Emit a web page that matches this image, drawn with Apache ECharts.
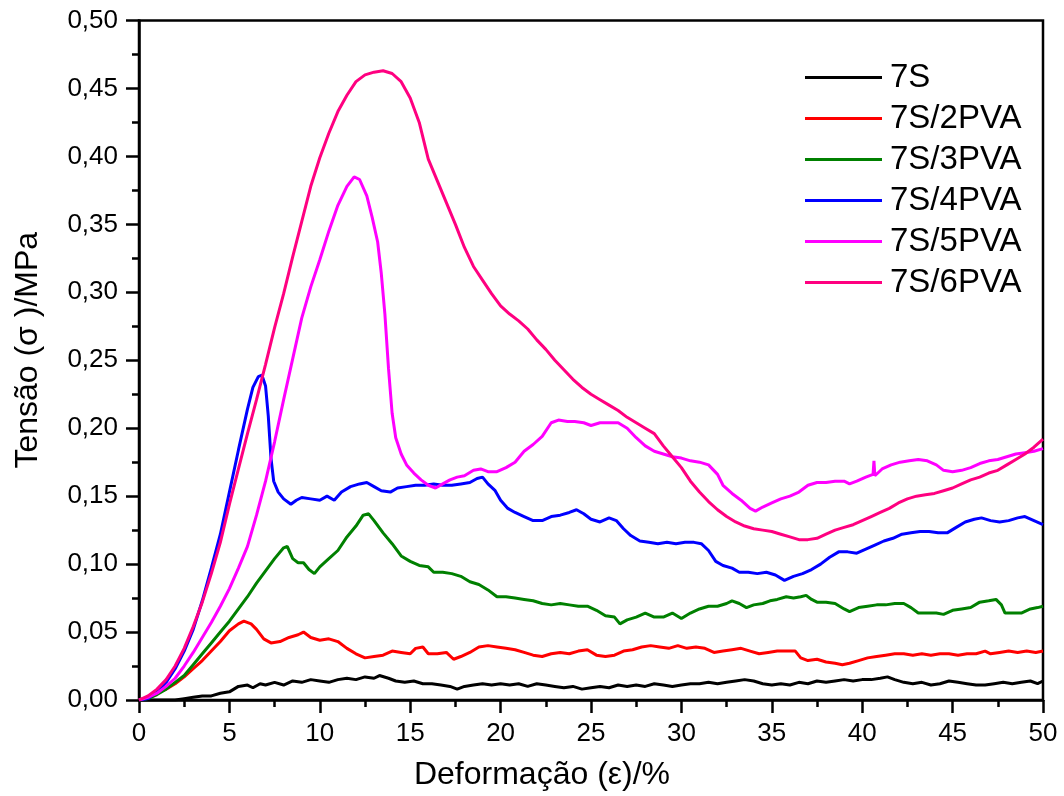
<!DOCTYPE html>
<html>
<head>
<meta charset="utf-8">
<script src="https://cdn.jsdelivr.net/npm/echarts@6/dist/echarts.min.js"></script>
<style>html,body{margin:0;padding:0;background:#fff}#c{width:1064px;height:796px}</style>
</head>
<body>
<div id="c"></div>
<script>
const seriesNames = ['7S', '7S/2PVA', '7S/3PVA', '7S/4PVA', '7S/5PVA', '7S/6PVA'];
const seriesColors = ['#000000', '#FF0000', '#008000', '#0000FF', '#FF00FF', '#FF0080'];
const xTicks = [0, 5, 10, 15, 20, 25, 30, 35, 40, 45, 50];
const yTicks = [0, 0.05, 0.10, 0.15, 0.20, 0.25, 0.30, 0.35, 0.40, 0.45, 0.50];

const data7S = [[0,0],[0.5,0],[1,0],[1.5,0],[2,0],[2.5,0.001],[3,0.002],[3.5,0.003],[4,0.003],[4.5,0.005],[5,0.006],[5.5,0.010],[6,0.011],[6.3,0.009],[6.7,0.012],[7,0.011],[7.5,0.013],[8,0.011],[8.5,0.014],[9,0.013],[9.5,0.015],[10,0.014],[10.5,0.013],[11,0.015],[11.5,0.016],[12,0.015],[12.5,0.017],[13,0.016],[13.3,0.018],[13.8,0.016],[14.2,0.014],[14.7,0.013],[15.2,0.014],[15.7,0.012],[16.2,0.012],[16.7,0.011],[17.2,0.010],[17.6,0.008],[18,0.010],[18.5,0.011],[19,0.012],[19.5,0.011],[20,0.012],[20.5,0.011],[21,0.012],[21.5,0.010],[22,0.012],[22.5,0.011],[23,0.010],[23.5,0.009],[24,0.010],[24.5,0.008],[25,0.009],[25.5,0.010],[26,0.009],[26.5,0.011],[27,0.010],[27.5,0.011],[28,0.010],[28.5,0.012],[29,0.011],[29.5,0.010],[30,0.011],[30.5,0.012],[31,0.012],[31.5,0.013],[32,0.012],[32.5,0.013],[33,0.014],[33.5,0.015],[34,0.014],[34.5,0.012],[35,0.011],[35.5,0.012],[36,0.011],[36.5,0.013],[37,0.012],[37.5,0.014],[38,0.013],[38.5,0.014],[39,0.015],[39.5,0.014],[40,0.015],[40.5,0.015],[41,0.016],[41.4,0.017],[41.8,0.015],[42.3,0.013],[42.8,0.012],[43.3,0.013],[43.8,0.011],[44.3,0.012],[44.8,0.014],[45.3,0.013],[45.8,0.012],[46.3,0.011],[46.8,0.011],[47.3,0.012],[47.8,0.013],[48.3,0.012],[48.8,0.013],[49.3,0.014],[49.7,0.012],[50,0.014]];

const data2PVA = [[0,0],[0.5,0.002],[1,0.005],[1.5,0.008],[2,0.012],[2.5,0.017],[3,0.023],[3.5,0.029],[4,0.036],[4.5,0.043],[5,0.051],[5.5,0.056],[5.8,0.058],[6.2,0.056],[6.5,0.052],[6.9,0.045],[7.3,0.042],[7.8,0.043],[8.3,0.046],[8.8,0.048],[9.1,0.050],[9.5,0.046],[10,0.044],[10.5,0.045],[11,0.043],[11.5,0.038],[12,0.034],[12.5,0.031],[13,0.032],[13.5,0.033],[14,0.036],[14.5,0.035],[15,0.034],[15.3,0.038],[15.7,0.039],[16,0.034],[16.5,0.034],[17,0.035],[17.4,0.030],[17.8,0.032],[18.3,0.035],[18.8,0.039],[19.3,0.040],[19.8,0.039],[20.3,0.038],[20.8,0.037],[21.3,0.035],[21.8,0.033],[22.3,0.032],[22.8,0.034],[23.3,0.035],[23.8,0.034],[24.3,0.036],[24.8,0.037],[25.3,0.033],[25.8,0.032],[26.3,0.033],[26.8,0.036],[27.3,0.037],[27.8,0.039],[28.3,0.040],[28.8,0.039],[29.3,0.038],[29.8,0.040],[30.3,0.038],[30.8,0.039],[31.3,0.038],[31.8,0.035],[32.3,0.036],[32.8,0.037],[33.3,0.038],[33.8,0.036],[34.3,0.034],[34.8,0.035],[35.3,0.036],[35.8,0.036],[36.3,0.036],[36.6,0.031],[37,0.029],[37.5,0.030],[38,0.028],[38.5,0.027],[38.9,0.026],[39.3,0.027],[39.8,0.029],[40.3,0.031],[40.8,0.032],[41.3,0.033],[41.8,0.034],[42.3,0.034],[42.8,0.033],[43.3,0.034],[43.8,0.033],[44.3,0.034],[44.8,0.034],[45.3,0.033],[45.8,0.034],[46.3,0.034],[46.8,0.036],[47.1,0.034],[47.6,0.035],[48.1,0.036],[48.6,0.035],[49.1,0.036],[49.6,0.035],[50,0.036]];

const data3PVA = [[0,0],[0.5,0.001],[1,0.004],[1.5,0.008],[2,0.013],[2.5,0.018],[3,0.026],[3.5,0.034],[4,0.042],[4.5,0.050],[5,0.058],[5.5,0.067],[6,0.076],[6.5,0.086],[7,0.095],[7.5,0.104],[8,0.112],[8.2,0.113],[8.5,0.104],[8.8,0.101],[9.1,0.101],[9.4,0.096],[9.7,0.093],[10,0.098],[10.5,0.104],[11,0.110],[11.5,0.120],[12,0.128],[12.4,0.136],[12.7,0.137],[13,0.132],[13.5,0.123],[14,0.115],[14.5,0.106],[15,0.102],[15.5,0.099],[16,0.098],[16.3,0.094],[16.8,0.094],[17.3,0.093],[17.8,0.091],[18.3,0.087],[18.8,0.085],[19.3,0.081],[19.8,0.076],[20.3,0.076],[20.8,0.075],[21.3,0.074],[21.8,0.073],[22.3,0.071],[22.8,0.070],[23.3,0.071],[23.8,0.070],[24.3,0.069],[24.8,0.069],[25.3,0.066],[25.8,0.062],[26.3,0.061],[26.6,0.056],[27,0.059],[27.5,0.061],[28,0.064],[28.5,0.061],[29,0.061],[29.5,0.064],[30,0.060],[30.5,0.064],[31,0.067],[31.5,0.069],[32,0.069],[32.5,0.071],[32.8,0.073],[33.2,0.071],[33.6,0.068],[34,0.070],[34.5,0.071],[34.9,0.073],[35.3,0.074],[35.8,0.076],[36.2,0.075],[36.6,0.076],[36.9,0.077],[37.2,0.074],[37.5,0.072],[38,0.072],[38.5,0.071],[39,0.067],[39.3,0.065],[39.8,0.068],[40.3,0.069],[40.8,0.070],[41.3,0.070],[41.8,0.071],[42.3,0.071],[42.7,0.068],[43.1,0.064],[43.6,0.064],[44.1,0.064],[44.5,0.063],[45,0.066],[45.5,0.067],[46,0.068],[46.5,0.072],[47,0.073],[47.4,0.074],[47.7,0.070],[47.9,0.064],[48.3,0.064],[48.8,0.064],[49.3,0.067],[49.7,0.068],[50,0.069]];

const data4PVA = [[0,0],[0.5,0.001],[1,0.006],[1.5,0.013],[2,0.023],[2.5,0.036],[3,0.052],[3.5,0.073],[4,0.097],[4.5,0.122],[5,0.153],[5.5,0.184],[6,0.214],[6.3,0.230],[6.6,0.238],[6.8,0.239],[7,0.231],[7.15,0.209],[7.3,0.178],[7.45,0.161],[7.7,0.153],[8,0.148],[8.4,0.144],[8.7,0.147],[9,0.149],[9.5,0.148],[10,0.147],[10.4,0.150],[10.8,0.147],[11.2,0.153],[11.7,0.157],[12.2,0.159],[12.6,0.160],[13,0.157],[13.4,0.154],[13.9,0.153],[14.3,0.156],[14.8,0.157],[15.3,0.158],[15.8,0.158],[16.3,0.159],[16.8,0.158],[17.3,0.158],[17.8,0.159],[18.3,0.160],[18.7,0.163],[19,0.164],[19.3,0.159],[19.7,0.154],[20,0.147],[20.4,0.141],[20.8,0.138],[21.3,0.135],[21.8,0.132],[22.3,0.132],[22.8,0.135],[23.3,0.136],[23.8,0.138],[24.2,0.140],[24.6,0.137],[25,0.133],[25.5,0.131],[26,0.134],[26.4,0.132],[26.8,0.126],[27.2,0.121],[27.7,0.117],[28.2,0.116],[28.7,0.115],[29.2,0.116],[29.7,0.115],[30.2,0.116],[30.7,0.116],[31.1,0.115],[31.5,0.110],[31.9,0.102],[32.3,0.099],[32.8,0.097],[33.2,0.094],[33.7,0.094],[34.2,0.093],[34.7,0.094],[35.2,0.092],[35.7,0.088],[36.2,0.091],[36.7,0.093],[37.2,0.096],[37.7,0.100],[38.2,0.105],[38.7,0.109],[39.2,0.109],[39.7,0.108],[40.2,0.111],[40.7,0.114],[41.2,0.117],[41.7,0.119],[42.2,0.122],[42.7,0.123],[43.2,0.124],[43.7,0.124],[44.2,0.123],[44.7,0.123],[45.2,0.127],[45.7,0.131],[46.2,0.133],[46.6,0.134],[47.1,0.132],[47.6,0.131],[48.1,0.132],[48.6,0.134],[49.0,0.135],[49.5,0.132],[50,0.129]];

const data5PVA = [[0,0],[0.5,0.002],[1,0.005],[1.5,0.010],[2,0.016],[2.5,0.025],[3,0.035],[3.5,0.046],[4,0.057],[4.5,0.069],[5,0.082],[5.5,0.097],[6,0.113],[6.5,0.136],[7,0.161],[7.5,0.190],[8,0.221],[8.5,0.251],[9,0.281],[9.5,0.304],[10,0.324],[10.5,0.345],[11,0.364],[11.5,0.378],[11.9,0.385],[12.2,0.383],[12.6,0.371],[12.9,0.355],[13.2,0.337],[13.4,0.314],[13.6,0.284],[13.8,0.244],[14,0.211],[14.2,0.193],[14.5,0.181],[14.8,0.173],[15.2,0.167],[15.6,0.162],[16,0.158],[16.4,0.156],[16.8,0.159],[17.2,0.162],[17.6,0.164],[18,0.165],[18.5,0.169],[18.9,0.170],[19.3,0.168],[19.8,0.168],[20.3,0.171],[20.8,0.175],[21.3,0.183],[21.8,0.188],[22.3,0.194],[22.8,0.204],[23.2,0.206],[23.7,0.205],[24.1,0.205],[24.6,0.204],[25,0.202],[25.5,0.204],[26,0.204],[26.5,0.204],[27,0.200],[27.5,0.193],[28,0.187],[28.5,0.183],[29,0.181],[29.5,0.179],[30,0.178],[30.5,0.176],[31,0.175],[31.5,0.173],[32,0.166],[32.3,0.158],[32.8,0.152],[33.3,0.147],[33.8,0.141],[34.1,0.139],[34.5,0.142],[35,0.145],[35.5,0.148],[36,0.150],[36.5,0.153],[37,0.158],[37.5,0.160],[38,0.160],[38.5,0.161],[39,0.161],[39.3,0.159],[39.7,0.161],[40.2,0.164],[40.6,0.166],[40.65,0.176],[40.7,0.165],[41.1,0.170],[41.6,0.173],[42.1,0.175],[42.6,0.176],[43.1,0.177],[43.6,0.176],[44.1,0.173],[44.5,0.169],[45,0.168],[45.5,0.169],[46,0.171],[46.5,0.174],[47,0.176],[47.5,0.177],[48,0.179],[48.5,0.181],[49,0.182],[49.5,0.183],[50,0.185]];

const data6PVA = [[0,0],[0.5,0.003],[1,0.008],[1.5,0.015],[2,0.025],[2.5,0.038],[3,0.054],[3.5,0.072],[4,0.093],[4.5,0.116],[5,0.144],[5.5,0.170],[6,0.196],[6.5,0.221],[7,0.247],[7.5,0.274],[8,0.299],[8.5,0.326],[9,0.352],[9.5,0.378],[10,0.399],[10.5,0.417],[11,0.433],[11.5,0.445],[12,0.455],[12.5,0.460],[13,0.462],[13.5,0.463],[14,0.461],[14.5,0.455],[15,0.443],[15.5,0.425],[16,0.398],[16.5,0.382],[17,0.366],[17.5,0.350],[18,0.333],[18.5,0.319],[19,0.309],[19.5,0.299],[20,0.290],[20.5,0.284],[21,0.279],[21.5,0.273],[22,0.265],[22.5,0.258],[23,0.250],[23.5,0.243],[24,0.236],[24.5,0.230],[25,0.225],[25.5,0.221],[26,0.217],[26.5,0.213],[27,0.208],[27.5,0.204],[28,0.200],[28.5,0.196],[29,0.187],[29.5,0.179],[30,0.171],[30.5,0.161],[31,0.153],[31.5,0.146],[32,0.140],[32.5,0.135],[33,0.131],[33.5,0.128],[34,0.126],[34.5,0.125],[35,0.124],[35.5,0.122],[36,0.120],[36.5,0.118],[37,0.118],[37.5,0.119],[38,0.122],[38.5,0.125],[39,0.127],[39.5,0.129],[40,0.132],[40.5,0.135],[41,0.138],[41.5,0.141],[42,0.145],[42.5,0.148],[43,0.150],[43.5,0.151],[44,0.152],[44.5,0.154],[45,0.156],[45.5,0.159],[46,0.162],[46.5,0.164],[47,0.167],[47.5,0.169],[48,0.173],[48.5,0.177],[49,0.181],[49.5,0.186],[50,0.192]];

const allData = [data7S, data2PVA, data3PVA, data4PVA, data5PVA, data6PVA];

const FONT = '"Liberation Sans", Arial, sans-serif';
const chart = echarts.init(document.getElementById('c'), null, {renderer: 'canvas'});
chart.setOption({
  animation: false,
  backgroundColor: '#ffffff',
  grid: {left: 139, right: 21, top: 20.5, bottom: 95.5, show: true, borderColor: '#000', borderWidth: 2.5, backgroundColor: 'transparent'},
  legend: {
    orient: 'vertical', left: 805, top: 61, padding: 0,
    itemWidth: 77, itemHeight: 3, itemGap: 8,
    icon: 'rect',
    data: seriesNames,
    textStyle: {fontFamily: FONT, fontSize: 33, color: '#000', padding: [0,0,0,3]}
  },
  xAxis: {
    type: 'value', min: 0, max: 50, interval: 5,
    name: 'Deformação (ε)/%', nameLocation: 'middle', nameGap: 59,
    nameTextStyle: {fontFamily: FONT, fontSize: 32, color: '#000', padding: [0, 98, 0, 0]},
    axisLine: {show: true, onZero: false, lineStyle: {color: '#000', width: 2.5}},
    axisTick: {show: true, inside: false, length: 13, lineStyle: {color: '#000', width: 2.5}},
    minorTick: {show: true, splitNumber: 2, length: 7, lineStyle: {color: '#000', width: 2.5}},
    splitLine: {show: false},
    axisLabel: {fontFamily: FONT, fontSize: 26, color: '#000', margin: 21,
      formatter: v => xTicks.includes(v) ? String(v) : ''}
  },
  yAxis: {
    type: 'value', min: 0, max: 0.5, interval: 0.05,
    name: 'Tensão (σ )/MPa', nameLocation: 'middle', nameGap: 95, nameRotate: 90,
    nameTextStyle: {fontFamily: FONT, fontSize: 32, color: '#000', padding: [0, 0, 0, 20]},
    axisLine: {show: true, onZero: false, lineStyle: {color: '#000', width: 2.5}},
    axisTick: {show: true, inside: false, length: 13, lineStyle: {color: '#000', width: 2.5}},
    minorTick: {show: true, splitNumber: 2, length: 7, lineStyle: {color: '#000', width: 2.5}},
    splitLine: {show: false},
    axisLabel: {fontFamily: FONT, fontSize: 26, color: '#000', margin: 21,
      formatter: v => {
        const t = yTicks.find(k => Math.abs(k - v) < 1e-9);
        return t === undefined ? '' : t.toFixed(2).replace('.', ',');
      }}
  },
  series: seriesNames.map((n, i) => ({
    name: n, type: 'line', data: allData[i],
    symbol: 'none', smooth: false,
    color: seriesColors[i],
    itemStyle: {color: seriesColors[i]},
    lineStyle: {color: seriesColors[i], width: 3},
    z: 2 + i
  }))
});
</script>
</body>
</html>
